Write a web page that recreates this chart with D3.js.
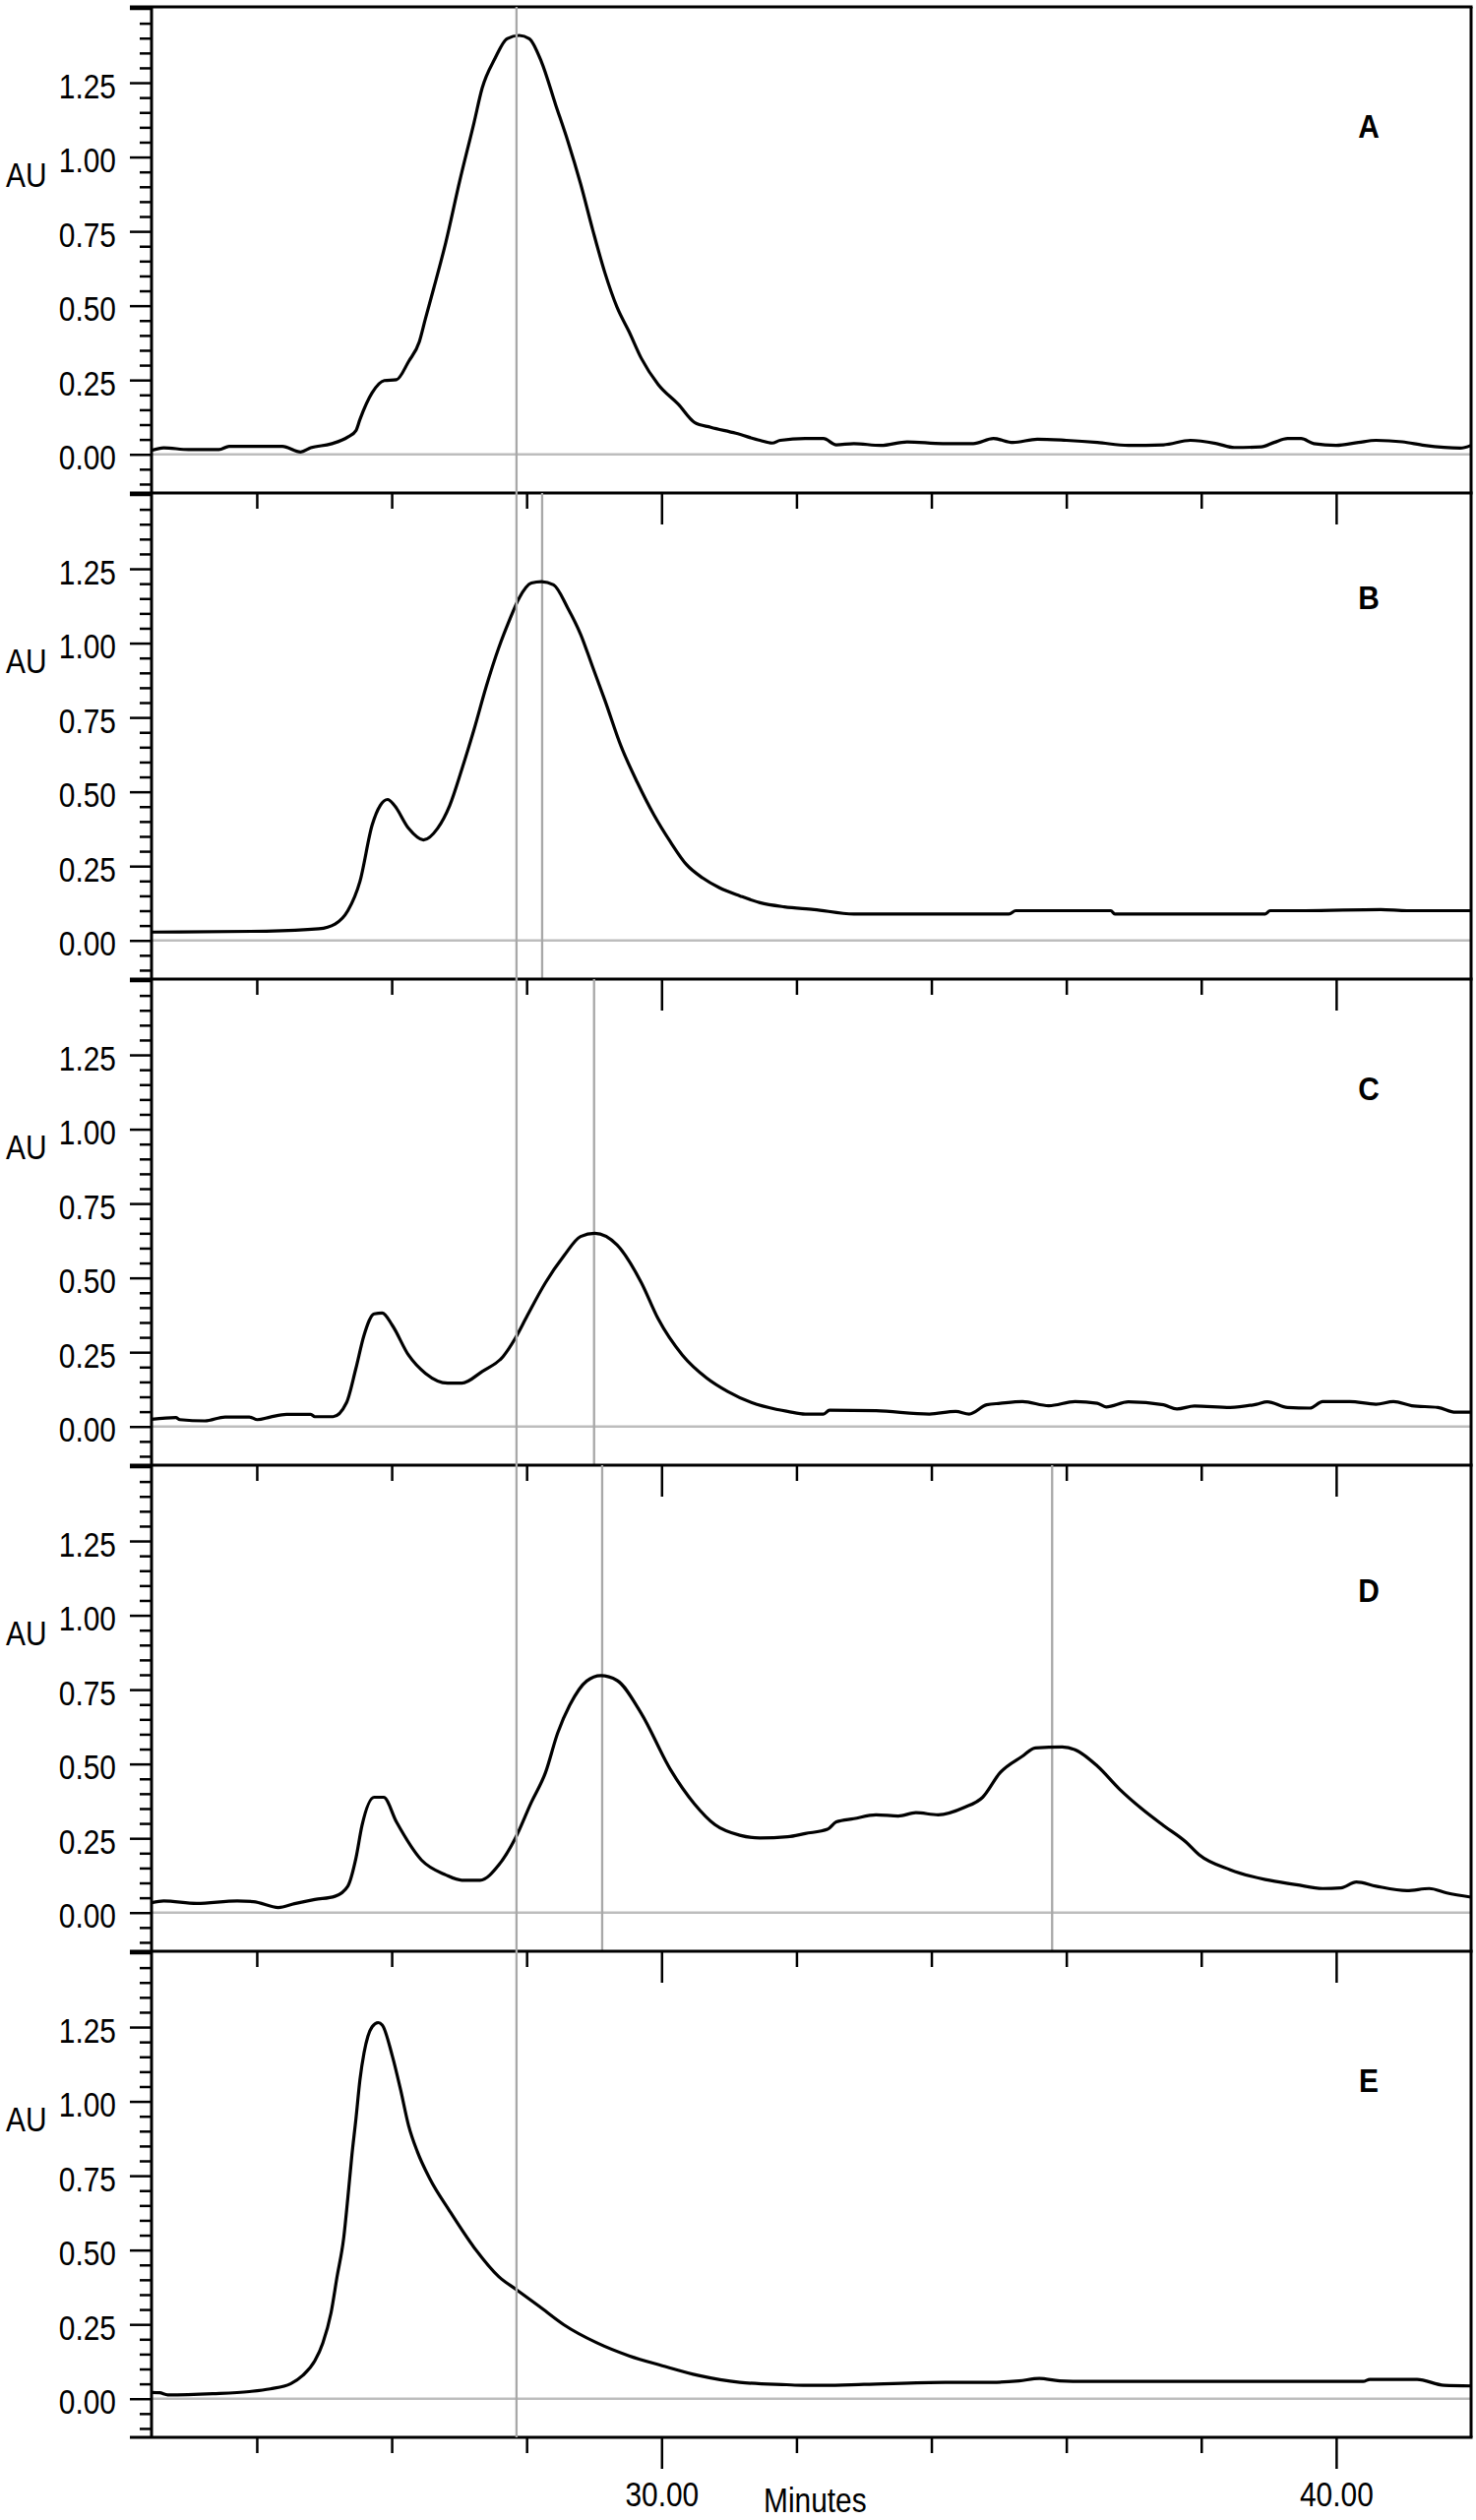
<!DOCTYPE html>
<html lang="en">
<head>
<meta charset="utf-8">
<script src="https://cdn.jsdelivr.net/npm/d3@7"></script>
<style>
  body { margin: 0; background: #fff; }
  text { font-family: "Liberation Sans", Arial, sans-serif; fill: #000; }
</style>
</head>
<body>
<div id="chart"></div>
<script>
// Chromatogram traces, [minutes, AU]
const traceA = [[22.44,0.013],[22.62,0.022],[22.99,0.016],[23.44,0.016],[23.59,0.027],[23.89,0.027],[24.38,0.027],[24.65,0.008],[24.80,0.022],[25.10,0.035],[25.35,0.058],[25.47,0.080],[25.53,0.118],[25.71,0.207],[25.89,0.248],[26.07,0.251],[26.25,0.312],[26.41,0.379],[26.50,0.456],[26.62,0.556],[26.80,0.711],[27.01,0.921],[27.22,1.115],[27.34,1.231],[27.53,1.331],[27.71,1.398],[27.89,1.409],[28.04,1.398],[28.22,1.320],[28.43,1.176],[28.61,1.054],[28.80,0.910],[28.98,0.755],[29.16,0.611],[29.34,0.495],[29.52,0.412],[29.70,0.323],[29.95,0.235],[30.25,0.168],[30.49,0.107],[30.73,0.091],[31.10,0.071],[31.46,0.047],[31.64,0.038],[31.76,0.047],[32.13,0.053],[32.40,0.053],[32.59,0.032],[32.85,0.036],[33.25,0.030],[33.64,0.042],[34.17,0.036],[34.62,0.036],[34.92,0.053],[35.21,0.040],[35.57,0.051],[36.00,0.047],[36.46,0.040],[36.92,0.030],[37.44,0.032],[37.84,0.047],[38.23,0.036],[38.49,0.023],[38.89,0.025],[39.08,0.040],[39.28,0.053],[39.48,0.053],[39.67,0.036],[40.00,0.030],[40.33,0.040],[40.59,0.047],[40.98,0.042],[41.31,0.030],[41.84,0.021],[42.00,0.030]];
const traceB = [[22.44,0.028],[24.14,0.031],[24.92,0.039],[25.16,0.055],[25.35,0.100],[25.53,0.199],[25.71,0.388],[25.83,0.454],[25.94,0.474],[26.04,0.454],[26.25,0.377],[26.47,0.338],[26.68,0.377],[26.86,0.454],[27.04,0.576],[27.22,0.709],[27.40,0.853],[27.59,0.986],[27.74,1.074],[27.89,1.152],[28.07,1.202],[28.22,1.207],[28.40,1.196],[28.61,1.118],[28.80,1.030],[28.98,0.919],[29.16,0.808],[29.40,0.653],[29.64,0.532],[29.89,0.421],[30.13,0.332],[30.37,0.255],[30.61,0.210],[30.86,0.177],[31.16,0.150],[31.46,0.127],[31.82,0.113],[32.26,0.104],[32.85,0.089],[35.15,0.089],[35.25,0.100],[36.66,0.100],[36.72,0.089],[38.95,0.089],[39.02,0.100],[39.54,0.100],[40.66,0.104],[41.05,0.100],[42.00,0.100]];
const traceC = [[22.44,0.024],[22.80,0.030],[22.86,0.023],[23.23,0.019],[23.53,0.032],[23.89,0.032],[24.01,0.023],[24.20,0.032],[24.44,0.041],[24.80,0.041],[24.86,0.033],[25.13,0.033],[25.33,0.080],[25.47,0.196],[25.59,0.307],[25.74,0.379],[25.86,0.382],[26.01,0.340],[26.25,0.240],[26.50,0.179],[26.83,0.146],[27.04,0.146],[27.34,0.185],[27.65,0.235],[27.83,0.296],[28.01,0.373],[28.28,0.484],[28.55,0.573],[28.80,0.639],[29.01,0.650],[29.34,0.611],[29.70,0.484],[29.95,0.362],[30.31,0.240],[30.67,0.163],[30.98,0.118],[31.34,0.080],[31.70,0.058],[31.87,0.051],[32.13,0.042],[32.40,0.042],[32.49,0.055],[33.18,0.053],[33.97,0.042],[34.36,0.051],[34.56,0.042],[34.82,0.073],[35.02,0.078],[35.35,0.084],[35.74,0.070],[36.13,0.084],[36.46,0.078],[36.59,0.066],[36.92,0.083],[37.44,0.073],[37.64,0.059],[37.90,0.069],[38.43,0.064],[38.82,0.075],[38.98,0.083],[39.28,0.064],[39.61,0.062],[39.80,0.084],[40.20,0.084],[40.59,0.075],[40.85,0.084],[41.12,0.070],[41.51,0.064],[41.77,0.048],[42.00,0.048]];
const traceD = [[22.44,0.033],[22.62,0.039],[23.11,0.031],[23.71,0.039],[23.95,0.037],[24.32,0.017],[24.56,0.030],[24.86,0.044],[25.16,0.055],[25.35,0.089],[25.47,0.183],[25.56,0.293],[25.74,0.388],[25.88,0.388],[26.07,0.305],[26.44,0.177],[26.80,0.127],[27.04,0.109],[27.31,0.109],[27.59,0.161],[27.83,0.249],[28.07,0.371],[28.28,0.471],[28.46,0.604],[28.64,0.698],[28.89,0.779],[29.10,0.797],[29.34,0.781],[29.70,0.670],[30.13,0.482],[30.49,0.365],[30.79,0.296],[31.16,0.260],[31.46,0.251],[31.87,0.255],[32.13,0.266],[32.46,0.280],[32.59,0.305],[32.85,0.316],[33.18,0.329],[33.51,0.325],[33.77,0.336],[34.10,0.329],[34.49,0.354],[34.76,0.388],[35.02,0.471],[35.35,0.526],[35.54,0.554],[35.94,0.557],[36.13,0.548],[36.46,0.493],[36.79,0.415],[37.12,0.349],[37.44,0.293],[37.77,0.238],[37.97,0.194],[38.43,0.144],[38.95,0.111],[39.41,0.094],[39.80,0.081],[40.07,0.083],[40.30,0.103],[40.59,0.089],[41.05,0.074],[41.38,0.081],[41.64,0.066],[42.00,0.052]];
const traceE = [[22.44,0.021],[22.56,0.020],[22.68,0.013],[23.35,0.017],[23.89,0.024],[24.20,0.033],[24.50,0.050],[24.68,0.078],[24.86,0.127],[24.98,0.188],[25.10,0.288],[25.19,0.410],[25.29,0.543],[25.35,0.676],[25.41,0.819],[25.47,0.941],[25.53,1.074],[25.59,1.163],[25.71,1.251],[25.80,1.265],[25.86,1.257],[26.01,1.152],[26.13,1.041],[26.25,0.919],[26.38,0.831],[26.56,0.742],[26.86,0.631],[27.22,0.509],[27.59,0.410],[27.86,0.365],[28.19,0.310],[28.55,0.249],[29.04,0.188],[29.52,0.144],[30.01,0.111],[30.55,0.078],[31.16,0.055],[31.85,0.047],[32.10,0.045],[32.40,0.045],[33.00,0.048],[34.20,0.055],[34.90,0.055],[35.30,0.060],[35.60,0.068],[35.90,0.060],[36.30,0.058],[38.00,0.058],[40.40,0.058],[40.50,0.065],[41.20,0.065],[41.60,0.045],[42.00,0.043]];

const panelNames = ["A", "B", "C", "D", "E"];
const traces = [traceA, traceB, traceC, traceD, traceE];

// retention-time marker lines (minutes)
const sharedMarker = 27.85;
const panelMarkers = [[], [28.23], [29.00], [29.12, 35.79], []];

const yMajorTicks = [0, 0.25, 0.5, 0.75, 1.0, 1.25, 1.5];
const yMinorTicks = [-0.10, -0.05, 0.05, 0.10, 0.15, 0.20, 0.30, 0.35, 0.40, 0.45, 0.55, 0.60, 0.65, 0.70, 0.80, 0.85, 0.90, 0.95, 1.05, 1.10, 1.15, 1.20, 1.30, 1.35, 1.40, 1.45];
const xMajorTicks = [30, 40];
const xMinorTicks = [24, 26, 28, 32, 34, 36, 38];
const xTitle = "Minutes";
const yTitle = "AU";

// layout
const width = 1500, height = 2561;
const plotLeft = 154, plotRight = 1495, plotTop = 7, panelH = 494;
const letterBaseline = [133, 118, 123, 139, 143];
const squeeze = "scale(0.83,1)";

const svg = d3.select("#chart").append("svg")
    .attr("width", width)
    .attr("height", height)
    .style("background", "#fff");

const x = d3.scaleLinear().domain([22.44, 42.0]).range([plotLeft, plotRight]);
const y = d3.scaleLinear().domain([-0.13, 1.505]).range([panelH, 0]);

const line = d3.line()
    .x(d => x(d[0]))
    .y(d => y(d[1]))
    .curve(d3.curveMonotoneX);

svg.append("defs").append("clipPath")
    .attr("id", "plotclip")
    .append("rect")
    .attr("x", plotLeft).attr("y", 0)
    .attr("width", plotRight - plotLeft).attr("height", panelH);

function styleAxis(g) {
    g.select(".domain").remove();
    g.selectAll(".tick line").attr("stroke", "#000").attr("stroke-width", 2.5);
}

traces.forEach((trace, i) => {
    const g = svg.append("g").attr("transform", `translate(0,${plotTop + i * panelH})`);

    // zero baseline
    g.append("line")
        .attr("x1", plotLeft).attr("x2", plotRight)
        .attr("y1", y(0)).attr("y2", y(0))
        .attr("stroke", "#bdbdbd").attr("stroke-width", 2.5);

    // panel markers
    g.selectAll("line.marker")
        .data(panelMarkers[i])
        .enter().append("line")
        .attr("class", "marker")
        .attr("x1", d => x(d)).attr("x2", d => x(d))
        .attr("y1", 0).attr("y2", panelH)
        .attr("stroke", "#a8a8a8").attr("stroke-width", 2.3);

    // trace
    g.append("path")
        .datum(trace)
        .attr("clip-path", "url(#plotclip)")
        .attr("fill", "none")
        .attr("stroke", "#000")
        .attr("stroke-width", 3.2)
        .attr("stroke-linejoin", "round")
        .attr("d", line);

    // y axis ticks
    g.append("g")
        .attr("transform", `translate(${plotLeft},0)`)
        .call(d3.axisLeft(y).tickValues(yMinorTicks).tickSize(12).tickFormat(""))
        .call(styleAxis);

    const yAx = g.append("g")
        .attr("transform", `translate(${plotLeft},0)`)
        .call(d3.axisLeft(y).tickValues(yMajorTicks).tickSize(22)
            .tickFormat(d => d >= 1.5 ? "" : d3.format(".2f")(d)))
        .call(styleAxis);
    yAx.selectAll(".tick text")
        .attr("x", 0).attr("dy", "0.42em")
        .attr("transform", `translate(-36,0) ${squeeze}`)
        .attr("font-size", 36)
        .attr("font-family", "Liberation Sans, Arial, sans-serif")
        .attr("fill", "#000");

    // x axis ticks at panel bottom
    const last = i === traces.length - 1;
    g.append("g")
        .attr("transform", `translate(0,${panelH})`)
        .call(d3.axisBottom(x).tickValues(xMinorTicks).tickSize(16).tickFormat(""))
        .call(styleAxis);
    const xAx = g.append("g")
        .attr("transform", `translate(0,${panelH})`)
        .call(d3.axisBottom(x).tickValues(xMajorTicks).tickSize(32)
            .tickFormat(d => last ? d3.format(".2f")(d) : ""))
        .call(styleAxis);
    xAx.selectAll(".tick text")
        .attr("y", 0).attr("dy", 0)
        .attr("transform", `translate(0,70) ${squeeze}`)
        .attr("font-size", 36)
        .attr("font-family", "Liberation Sans, Arial, sans-serif")
        .attr("fill", "#000");

    // frame
    g.append("line").attr("x1", plotLeft).attr("x2", plotLeft).attr("y1", 0).attr("y2", panelH)
        .attr("stroke", "#000").attr("stroke-width", 3);
    g.append("line").attr("x1", plotRight).attr("x2", plotRight).attr("y1", 0).attr("y2", panelH)
        .attr("stroke", "#000").attr("stroke-width", 3);
    if (i === 0) {
        g.append("line").attr("x1", plotLeft - 22).attr("x2", plotRight + 1.5).attr("y1", 0).attr("y2", 0)
            .attr("stroke", "#000").attr("stroke-width", 3);
    }
    g.append("line").attr("x1", plotLeft - 22).attr("x2", plotRight + 1.5).attr("y1", panelH).attr("y2", panelH)
        .attr("stroke", "#000").attr("stroke-width", 3);

    // AU title
    g.append("text")
        .attr("transform", `translate(6,183) ${squeeze}`)
        .attr("font-size", 36)
        .text(yTitle);

    // panel letter
    g.append("text")
        .attr("transform", `translate(1391,${letterBaseline[i]}) scale(0.88,1)`)
        .attr("text-anchor", "middle")
        .attr("font-size", 34)
        .attr("font-weight", "bold")
        .text(panelNames[i]);
});

// marker shared by all panels
svg.append("line")
    .attr("x1", x(sharedMarker)).attr("x2", x(sharedMarker))
    .attr("y1", plotTop).attr("y2", plotTop + panelH * traces.length)
    .attr("stroke", "#a8a8a8").attr("stroke-width", 2.3);

// x title
svg.append("text")
    .attr("transform", `translate(776,2553) ${squeeze}`)
    .attr("font-size", 36)
    .text(xTitle);
</script>
</body>
</html>
